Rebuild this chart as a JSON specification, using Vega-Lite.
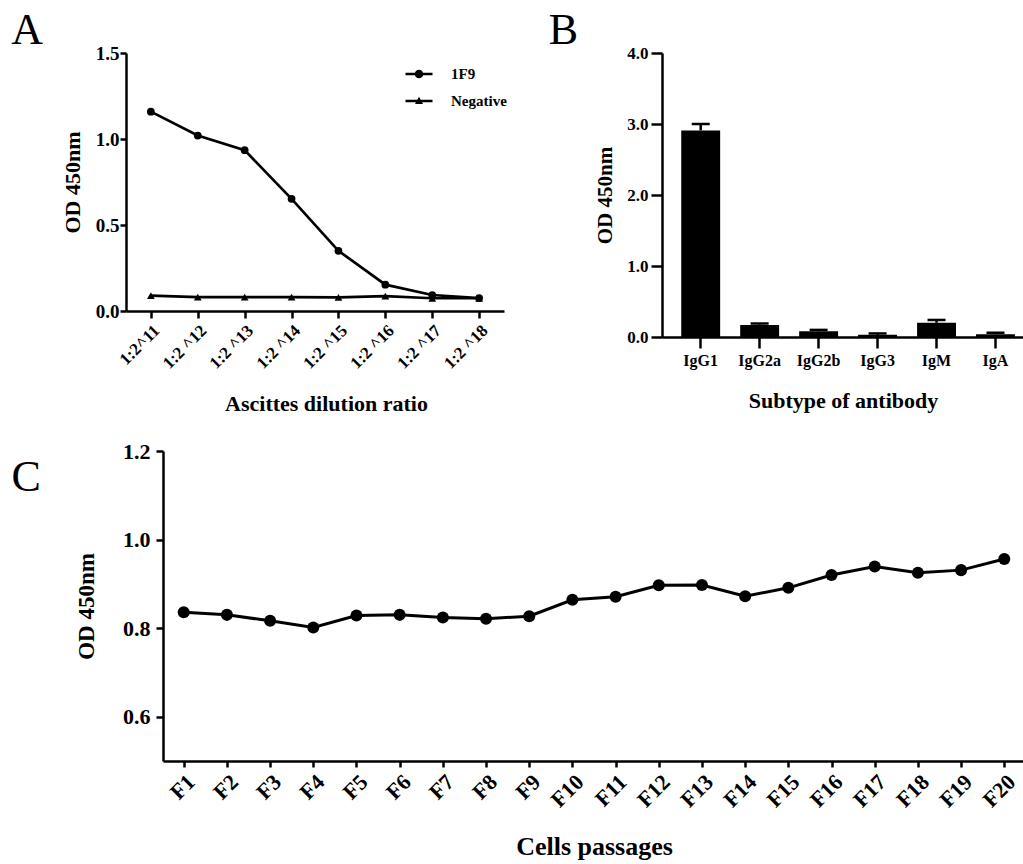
{
  "$schema": "https://vega.github.io/schema/vega-lite/v6.json",
  "background": "white",
  "padding": {"left": 11, "top": 9, "right": 0, "bottom": 0},
  "config": {
    "font": "Liberation Serif",
    "view": {"stroke": null},
    "axis": {
      "grid": false,
      "domainColor": "black",
      "domainWidth": 2.5,
      "tickColor": "black",
      "tickWidth": 2.5,
      "labelColor": "black",
      "labelFont": "Liberation Serif",
      "labelFontWeight": "bold",
      "titleColor": "black",
      "titleFont": "Liberation Serif",
      "titleFontWeight": "bold"
    },
    "title": {"font": "Liberation Serif", "fontWeight": "normal", "fontSize": 44, "color": "black", "anchor": "start", "frame": "bounds", "offset": -9}
  },
  "datasets": {
    "elisa": [
      {"ratio": "1:2^11", "series": "1F9", "od": 1.159},
      {"ratio": "1:2 ^12", "series": "1F9", "od": 1.02},
      {"ratio": "1:2 ^13", "series": "1F9", "od": 0.935},
      {"ratio": "1:2 ^14", "series": "1F9", "od": 0.652},
      {"ratio": "1:2 ^15", "series": "1F9", "od": 0.35},
      {"ratio": "1:2 ^16", "series": "1F9", "od": 0.153},
      {"ratio": "1:2 ^17", "series": "1F9", "od": 0.093},
      {"ratio": "1:2 ^18", "series": "1F9", "od": 0.075},
      {"ratio": "1:2^11", "series": "Negative", "od": 0.089},
      {"ratio": "1:2 ^12", "series": "Negative", "od": 0.081},
      {"ratio": "1:2 ^13", "series": "Negative", "od": 0.081},
      {"ratio": "1:2 ^14", "series": "Negative", "od": 0.081},
      {"ratio": "1:2 ^15", "series": "Negative", "od": 0.079},
      {"ratio": "1:2 ^16", "series": "Negative", "od": 0.087},
      {"ratio": "1:2 ^17", "series": "Negative", "od": 0.074},
      {"ratio": "1:2 ^18", "series": "Negative", "od": 0.074}
    ],
    "subtypes": [
      {"subtype": "IgG1", "od": 2.91, "upper": 3.0},
      {"subtype": "IgG2a", "od": 0.17, "upper": 0.19},
      {"subtype": "IgG2b", "od": 0.08, "upper": 0.1},
      {"subtype": "IgG3", "od": 0.03, "upper": 0.05},
      {"subtype": "IgM", "od": 0.2, "upper": 0.24},
      {"subtype": "IgA", "od": 0.04, "upper": 0.06}
    ],
    "passages": [
      {"passage": "F1", "od": 0.836},
      {"passage": "F2", "od": 0.83},
      {"passage": "F3", "od": 0.8165},
      {"passage": "F4", "od": 0.8015},
      {"passage": "F5", "od": 0.8285},
      {"passage": "F6", "od": 0.83},
      {"passage": "F7", "od": 0.824},
      {"passage": "F8", "od": 0.821},
      {"passage": "F9", "od": 0.827},
      {"passage": "F10", "od": 0.864},
      {"passage": "F11", "od": 0.871},
      {"passage": "F12", "od": 0.897},
      {"passage": "F13", "od": 0.8975},
      {"passage": "F14", "od": 0.872},
      {"passage": "F15", "od": 0.891},
      {"passage": "F16", "od": 0.92},
      {"passage": "F17", "od": 0.939},
      {"passage": "F18", "od": 0.925},
      {"passage": "F19", "od": 0.931},
      {"passage": "F20", "od": 0.956}
    ]
  },
  "spacing": 25,
  "vconcat": [
    {
      "spacing": 41,
      "hconcat": [
        {
          "width": 378,
          "height": 258,
          "title": {"text": "A", "dx": -50},
          "data": {"name": "elisa"},
          "encoding": {
            "x": {
              "field": "ratio", "type": "nominal", "sort": null,
              "scale": {"type": "point", "padding": 0.53},
              "axis": {"labelAngle": -45, "labelFontSize": 17, "tickSize": 7, "labelPadding": 4, "title": "Ascittes dilution ratio", "titleFontSize": 22, "titlePadding": 22, "titleX": 200}
            },
            "y": {
              "field": "od", "type": "quantitative",
              "scale": {"domain": [0, 1.5], "nice": false},
              "axis": {"values": [0, 0.5, 1, 1.5], "format": ".1f", "labelFontSize": 19, "tickSize": 6, "labelPadding": 1, "title": "OD 450nm", "titleFontSize": 22, "titlePadding": 11}
            }
          },
          "layer": [
            {
              "mark": {"type": "line", "color": "black", "strokeWidth": 2.7},
              "encoding": {"detail": {"field": "series"}}
            },
            {
              "mark": {"type": "point", "filled": true, "color": "black", "opacity": 1, "size": 60},
              "encoding": {
                "shape": {
                  "field": "series", "type": "nominal",
                  "scale": {"domain": ["1F9", "Negative"], "range": ["circle", "triangle-up"]},
                  "legend": null
                }
              }
            },
            {
              "mark": {"type": "point", "filled": true, "color": "black", "opacity": 0, "size": 10},
              "encoding": {
                "shape": {
                  "field": "series", "type": "nominal",
                  "scale": {
                    "domain": ["1F9", "Negative"],
                    "range": [
                      "M-1.35,-0.125H1.35V0.125H-1.35Z M0.43,0A0.43,0.43,0,1,1,-0.43,0A0.43,0.43,0,1,1,0.43,0Z",
                      "M-1.35,-0.125H1.35V0.125H-1.35Z M0,-0.42L0.4,0.3L-0.4,0.3Z"
                    ]
                  },
                  "legend": {
                    "title": null,
                    "orient": "none",
                    "legendX": 283,
                    "legendY": 11,
                    "padding": 0,
                    "symbolSize": 400,
                    "symbolFillColor": "black",
                    "symbolStrokeWidth": 0,
                    "symbolOpacity": 1,
                    "labelFont": "Liberation Serif",
                    "labelFontWeight": "bold",
                    "labelFontSize": 15,
                    "labelColor": "black",
                    "labelOffset": 22,
                    "rowPadding": 9
                  }
                }
              }
            }
          ],
          "resolve": {"scale": {"shape": "independent"}, "legend": {"shape": "independent"}}
        },
        {
          "width": 362,
          "height": 284,
          "title": {"text": "B", "dx": -46},
          "data": {"name": "subtypes"},
          "encoding": {
            "x": {
              "field": "subtype", "type": "nominal", "sort": null,
              "scale": {"type": "band", "paddingInner": 0.34, "paddingOuter": 0.24, "align": 0.68},
              "axis": {"labelAngle": 0, "labelFontSize": 16, "tickSize": 11, "labelPadding": 4, "title": "Subtype of antibody", "titleFontSize": 22, "titlePadding": 22}
            }
          },
          "layer": [
            {
              "mark": {"type": "bar", "color": "black"},
              "encoding": {
                "y": {
                  "field": "od", "type": "quantitative",
                  "scale": {"domain": [0, 4], "nice": false},
                  "axis": {"values": [0, 1, 2, 3, 4], "format": ".1f", "labelFontSize": 17, "tickSize": 11, "labelPadding": 3, "title": "OD 450nm", "titleFontSize": 21, "titlePadding": 11}
                }
              }
            },
            {
              "mark": {"type": "rule", "color": "black", "strokeWidth": 2.5},
              "encoding": {
                "y": {"field": "od", "type": "quantitative"},
                "y2": {"field": "upper"}
              }
            },
            {
              "mark": {"type": "tick", "color": "black", "thickness": 2.5, "size": 18, "opacity": 1},
              "encoding": {
                "y": {"field": "upper", "type": "quantitative"}
              }
            }
          ]
        }
      ]
    },
    {
      "width": 899,
      "height": 310,
      "title": {"text": "C", "dx": -64, "dy": 51},
      "data": {"name": "passages"},
      "encoding": {
        "x": {
          "field": "passage", "type": "nominal", "sort": null,
          "scale": {"type": "point", "padding": 0.48, "range": [37, 899]},
          "axis": {"labelAngle": -45, "labelFontSize": 22, "tickSize": 6, "labelPadding": 4, "title": "Cells passages", "titleFontSize": 26, "titlePadding": 23}
        },
        "y": {
          "field": "od", "type": "quantitative",
          "scale": {"domain": [0.5, 1.2], "nice": false, "zero": false},
          "axis": {"offset": -37, "values": [0.6, 0.8, 1.0, 1.2], "format": ".1f", "labelFontSize": 22, "tickSize": 7, "labelPadding": 6, "title": "OD 450nm", "titleFontSize": 23, "titlePadding": 24}
        }
      },
      "layer": [
        {"mark": {"type": "line", "color": "black", "strokeWidth": 3}},
        {"mark": {"type": "point", "filled": true, "color": "black", "opacity": 1, "size": 145}}
      ]
    }
  ]
}
